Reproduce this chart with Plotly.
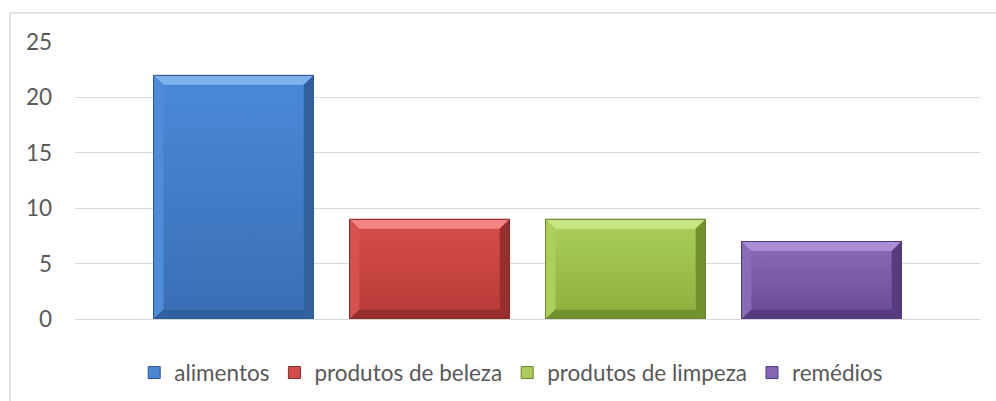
import plotly.graph_objects as go

# Quantities per product group
categories = ["alimentos", "produtos de beleza", "produtos de limpeza", "remédios"]
values = [22, 9, 9, 7]
y_ticks = [0, 5, 10, 15, 20, 25]

# Palette per series: face top, face bottom, bevel light, bevel side, bevel dark, outline
palette = [
    dict(top="#4a88d6", bottom="#3a6fb6", light="#7db2ef", side="#4f8bd8", dark="#30609e", line="#2c5790"),
    dict(top="#d44d4a", bottom="#b93b39", light="#f28683", side="#d6524f", dark="#962f2d", line="#8a2a28"),
    dict(top="#a9cd58", bottom="#8fb140", light="#c8e583", side="#abcf5b", dark="#71902e", line="#6a862a"),
    dict(top="#8667b3", bottom="#6c4e98", light="#ab8ed6", side="#896ab6", dark="#563c7e", line="#503876"),
]

bar_w = 0.816          # bar width in slot units
bev_x = 0.05           # bevel width (x units)
bev_y = 0.85           # bevel height (y units)

fig = go.Figure()

positions = list(range(len(categories)))
for i, (name, v, c) in enumerate(zip(categories, values, palette)):
    fig.add_trace(go.Bar(
        x=[positions[i]], y=[v], name=name, width=bar_w,
        marker=dict(color=c["top"], line=dict(color=c["line"], width=1)),
        hoverinfo="name+y",
    ))

# gradient face drawn over each bar
for i, (v, c) in enumerate(zip(values, palette)):
    x0, x1 = positions[i] - bar_w / 2, positions[i] + bar_w / 2
    fig.add_trace(go.Scatter(
        x=[x0 + bev_x, x1 - bev_x, x1 - bev_x, x0 + bev_x, x0 + bev_x],
        y=[bev_y, bev_y, v - bev_y, v - bev_y, bev_y],
        mode="lines", line=dict(width=0), fill="toself",
        fillgradient=dict(type="vertical",
                          colorscale=[[0, c["bottom"]], [1, c["top"]]]),
        showlegend=False, hoverinfo="skip",
    ))

shapes = []
for i, (v, c) in enumerate(zip(values, palette)):
    x0, x1 = positions[i] - bar_w / 2, positions[i] + bar_w / 2
    xi0, xi1 = x0 + bev_x, x1 - bev_x
    yt, yi = v, v - bev_y
    bands = [
        (f"M{x0},{yt} L{x1},{yt} L{xi1},{yi} L{xi0},{yi} Z", c["light"]),
        (f"M{x0},{yt} L{xi0},{yi} L{xi0},{bev_y} L{x0},0 Z", c["side"]),
        (f"M{x1},{yt} L{xi1},{yi} L{xi1},{bev_y} L{x1},0 Z", c["dark"]),
        (f"M{x0},0 L{xi0},{bev_y} L{xi1},{bev_y} L{x1},0 Z", c["dark"]),
    ]
    for path, col in bands:
        shapes.append(dict(type="path", path=path, xref="x", yref="y",
                           fillcolor=col, line=dict(width=0), layer="above"))
    shapes.append(dict(type="rect", xref="x", yref="y", x0=x0, x1=x1, y0=0, y1=v,
                       line=dict(color=c["line"], width=1), layer="above"))

# chart-area frame (top and left edges)
shapes.append(dict(type="line", xref="paper", yref="paper",
                   x0=-0.0718, x1=1.05, y0=1.105, y1=1.105,
                   line=dict(color="#d9d9d9", width=1.5)))
shapes.append(dict(type="line", xref="paper", yref="paper",
                   x0=-0.0718, x1=-0.0718, y0=1.105, y1=-0.32,
                   line=dict(color="#d9d9d9", width=1.5)))

fig.update_layout(
    width=996, height=401,
    margin=dict(l=75, r=16, t=42, b=82),
    paper_bgcolor="white", plot_bgcolor="white",
    font=dict(family="Lato", size=22.5, color="#595959"),
    barmode="overlay",
    showlegend=True,
    legend=dict(orientation="h", x=0.482, xanchor="center",
                xref="paper", yref="container", y=0.07, yanchor="middle",
                font=dict(family="Lato", size=22.5, color="#595959"),
                itemclick=False, traceorder="normal"),
    shapes=shapes,
    xaxis=dict(range=[-0.809, 3.809], showticklabels=False, showgrid=False,
               zeroline=False, showline=False, fixedrange=True),
    yaxis=dict(range=[0, 25.02], tickvals=y_ticks, ticktext=[str(t) for t in y_ticks],
               showgrid=True, gridcolor="#d9d9d9", gridwidth=1.3,
               zeroline=True, zerolinecolor="#d9d9d9", zerolinewidth=1.3,
               showline=False, ticks="", ticklabelstandoff=22, fixedrange=True),
)

fig.write_html("out.html")
